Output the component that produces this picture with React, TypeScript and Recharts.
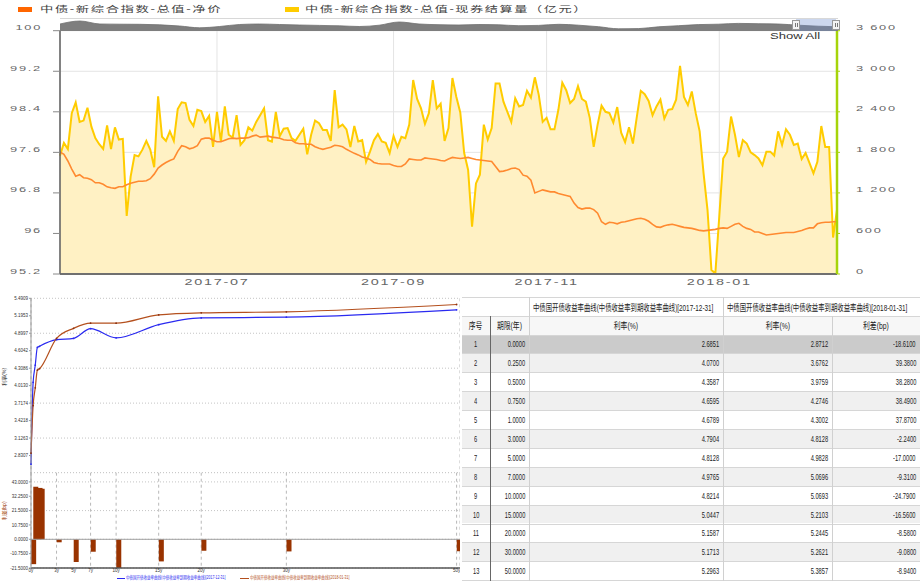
import React from "react";
import {
  Area,
  AreaChart,
  Bar,
  CartesianGrid,
  ComposedChart,
  Line,
  LineChart,
  ReferenceLine,
  XAxis,
  YAxis,
} from "recharts";

const FONT = '"Liberation Sans", Arial, "Noto Sans CJK SC", sans-serif';

// 中债-新综合指数-总值, one value per trading day
const netPrice = [
  97.61, 97.56, 97.43, 97.27, 97.13, 97.16, 97.1, 97.09, 97.06, 97.0,
  97.0, 96.97, 96.92, 96.9, 96.89, 96.92, 96.92, 96.96, 96.99, 97.01,
  97.03, 97.03, 97.04, 97.08, 97.17, 97.29, 97.35, 97.4, 97.44, 97.47,
  97.62, 97.73, 97.71, 97.67, 97.69, 97.73, 97.86, 97.88, 97.88, 97.84,
  97.81, 97.81, 97.84, 97.87, 97.88, 97.87, 97.88, 97.88, 97.89, 97.92,
  97.94, 97.9, 97.91, 97.92, 97.9, 97.89, 97.88, 97.85, 97.84, 97.84,
  97.79, 97.77, 97.77, 97.76, 97.76, 97.71, 97.68, 97.66, 97.68, 97.7,
  97.74, 97.73, 97.71, 97.66, 97.62, 97.58, 97.55, 97.51, 97.49, 97.46,
  97.4, 97.38, 97.37, 97.37, 97.37, 97.34, 97.32, 97.32, 97.37, 97.47,
  97.46, 97.45, 97.45, 97.49, 97.48, 97.47, 97.46, 97.44, 97.43, 97.47,
  97.5, 97.49, 97.48, 97.49, 97.5, 97.48, 97.46, 97.45, 97.44, 97.43,
  97.42, 97.32, 97.22, 97.23, 97.25, 97.28, 97.29, 97.26, 97.15, 97.13,
  97.05, 96.8, 96.83, 96.86, 96.84, 96.82, 96.82, 96.79, 96.77, 96.75,
  96.73, 96.6, 96.51, 96.48, 96.5, 96.5, 96.47, 96.4, 96.23, 96.18,
  96.22, 96.21, 96.19, 96.22, 96.23, 96.25, 96.27, 96.29, 96.3, 96.28,
  96.24, 96.18, 96.13, 96.12, 96.15, 96.17, 96.18, 96.16, 96.14, 96.12,
  96.11, 96.1, 96.08, 96.06, 96.05, 96.06, 96.07, 96.08, 96.1, 96.11,
  96.1, 96.14, 96.18, 96.2, 96.14, 96.1, 96.08, 96.03, 96.03, 96.0,
  95.97, 95.98, 95.99, 96.0, 96.01, 96.02, 96.02, 96.02, 96.04, 96.06,
  96.09, 96.11, 96.11, 96.19, 96.21, 96.22, 96.22, 96.23, 96.23,
];

const settleVolume = [
  1750, 1940, 1850, 2380, 2540, 2250, 2270, 2460, 2180, 2010,
  1920, 1850, 2200, 1850, 2170, 1990, 2000, 860, 1440, 1760,
  1740, 1840, 1970, 1840, 1580, 2630, 2030, 1970, 2110, 1970,
  2440, 2540, 2530, 2280, 2190, 2430, 2410, 2250, 2340, 1880,
  2400, 1960, 2480, 2060, 2020, 2350, 1910, 1980, 2170, 2120,
  2250, 2350, 2450, 1980, 1960, 2400, 2040, 2150, 2160, 2010,
  1970, 2060, 2150, 1770, 2060, 2270, 2230, 2130, 2130, 1970,
  2720, 2170, 2210, 2140, 1880, 2190, 1960, 1980, 1660, 1810,
  1980, 2070, 1960, 1940, 1790, 2040, 1880, 2030, 2010, 2210,
  2870, 2590, 2450, 2220, 2380, 2870, 2450, 2520, 1970, 2160,
  2900, 2620, 2390, 1790, 1540, 700, 1340, 1470, 2210, 1990,
  2160, 2820, 2820, 2550, 2400, 2250, 2600, 2480, 2500, 2710,
  2610, 2910, 2650, 2250, 2310, 2140, 2140, 2430, 2830, 2720,
  2530, 2590, 2780, 2590, 2550, 2310, 1880, 2210, 2490, 2400,
  2380, 2240, 2470, 2090, 1950, 2170, 1930, 2330, 2710, 2660,
  2560, 2350, 2480, 2580, 2300, 2430, 2440, 2580, 3080, 2620,
  2500, 2700, 2380, 2110, 1490, 950, 60, 10, 850, 1710,
  1810, 2330, 2060, 1730, 1980, 1930, 1800, 1760, 1710, 1610,
  1810, 1810, 1750, 2110, 1910, 2140, 2060, 1910, 1930, 1700,
  1790, 1640, 1490, 1660, 2190, 1880, 1880, 540, 950,
];

const monthTickIdx = [40, 85, 124, 168];
const monthLabels = ["2017-07", "2017-09", "2017-11", "2018-01"];
const priceTicks = [95.2, 96, 96.8, 97.6, 98.4, 99.2, 100];
const volumeTicks = [0, 600, 1200, 1800, 2400, 3000, 3600];

// navigator (full history, relative level)
const navigatorSeries = [
  7, 10, 7, 6.8, 6.7, 6.2, 5, 3.2, 4.5, 6.5,
  7, 6.5, 6, 5.6, 5.2, 4.5, 5.8, 9, 7, 6.3,
  6, 6.5, 6.2, 5.3, 5.6, 6.7, 5.8, 4.3, 2.2, 2.4,
  4.2, 5.3, 6.4, 6.8, 7.6, 7.3, 7, 5.8, 4.8, 4.2,
];

// 中债国开债收益率曲线
const tenors = [0, 0.25, 0.5, 0.75, 1, 3, 5, 7, 10, 15, 20, 30, 50];
const yield20171231 = [2.6851, 4.07, 4.3587, 4.6595, 4.6789, 4.7904, 4.8128, 4.9765, 4.8214, 5.0447, 5.1587, 5.1713, 5.2963];
const yield20180131 = [2.8712, 3.6762, 3.9759, 4.2746, 4.3002, 4.8128, 4.9828, 5.0696, 5.0693, 5.2103, 5.2445, 5.2621, 5.3857];
const spreadBp = [-18.61, 39.38, 38.28, 38.49, 37.87, -2.24, -17.0, -9.31, -24.79, -16.56, -8.58, -9.08, -8.94];
const tenorTicks = [0, 3, 5, 7, 10, 15, 20, 30, 50];
const yieldTicks = [2.5351, 2.8307, 3.1263, 3.4218, 3.7174, 4.013, 4.3086, 4.6042, 4.8997, 5.1953, 5.4909];
const spreadTicks = [-21.5, -10.75, 0, 10.75, 21.5, 32.25, 43.0];

const curveTitle = "中债国开债收益率曲线(中债收益率到期收益率曲线)";
const curveDates = ["2017-12-31", "2018-01-31"];

const topData = netPrice.map((price, i) => ({ i, price, volume: settleVolume[i] }));
const navData = navigatorSeries.map((v, i) => ({ i, v }));
const curveData = tenors.map((t, k) => ({
  t,
  dec: yield20171231[k],
  jan: yield20180131[k],
  spread: spreadBp[k],
}));

const fmtVolume = (v: number) =>
  v >= 1000 ? `${Math.floor(v / 1000)} ${String(v % 1000).padStart(3, "0")}` : String(v);
const fmtPrice = (v: number) => String(Math.round(v * 10) / 10);
const fmtMonth = (v: number) => monthLabels[monthTickIdx.indexOf(v)] ?? "";

// highcharts screenshot text is stretched sideways
const stretchTick =
  (fmt: (v: number) => string, anchor: string, dy: number, size: number) => (props: any) => {
    const { x, y, payload } = props;
    return (
      <text
        transform={`translate(${x},${y + dy}) scale(1.6,1)`}
        textAnchor={anchor}
        fontSize={size}
        letterSpacing={1.1}
        fill="#666"
        fontFamily={FONT}
      >
        {fmt(payload.value)}
      </text>
    );
  };

// bars start at their tenor and run 5px to the right
const BAR_W = 5;
const ShiftedBar = (props: any) => {
  const { x, y, width, height, fill } = props;
  const top = Math.min(y, y + height);
  return <rect x={x + width / 2} y={top} width={BAR_W} height={Math.abs(height)} fill={fill} />;
};

const Sx = ({ children, sx, origin }: any) => (
  <span
    style={{
      display: "inline-block",
      transform: `scaleX(${sx})`,
      transformOrigin: origin,
      whiteSpace: "nowrap",
    }}
  >
    {children}
  </span>
);

const abs = (left: number, top: number, extra: any = {}) => ({
  position: "absolute" as const,
  left,
  top,
  ...extra,
});

const colX = [462, 490, 529.3, 723.3, 831.7, 920];
const ROW_H = 18.9;
const BODY_TOP = 334.5;

const Cell = ({ c0, c1, top, h, align, children, sx, color = "#222" }: any) => (
  <div
    style={abs(colX[c0], top, {
      width: colX[c1] - colX[c0],
      height: h,
      display: "flex",
      alignItems: "center",
      justifyContent: align === "right" ? "flex-end" : align === "left" ? "flex-start" : "center",
      boxSizing: "border-box",
      padding: "0 4px",
      fontSize: 9.5,
      color,
    })}
  >
    <Sx sx={sx} origin={align === "right" ? "right center" : align === "left" ? "left center" : "center"}>
      {children}
    </Sx>
  </div>
);

const YieldTable = () => {
  const rows = tenors.map((t, k) => k);
  return (
    <>
      {rows.map((k) => (
        <div
          key={`bg${k}`}
          style={abs(colX[0], BODY_TOP + k * ROW_H, {
            width: 458,
            height: ROW_H,
            background: k === 0 ? "#cbcbcb" : k % 2 === 1 ? "#f0f0f0" : "#ffffff",
          })}
        />
      ))}
      <div style={abs(colX[0], 316, { width: 458, height: BODY_TOP - 316, background: "#f7f7f7" })} />
      {[297, 316, ...rows.map((k) => BODY_TOP + k * ROW_H), BODY_TOP + 13 * ROW_H].map((y, j) => (
        <div key={`h${j}`} style={abs(colX[0], y, { width: 458, height: 1, background: "#d6d6d6" })} />
      ))}
      <div style={abs(colX[1], 316, { width: 1, height: 265, background: "#666" })} />
      <div style={abs(colX[2], 297, { width: 1, height: 284, background: "#d0d0d0" })} />
      <div style={abs(colX[3], 297, { width: 1, height: 284, background: "#d0d0d0" })} />
      <div style={abs(colX[4], 316, { width: 1, height: 265, background: "#d0d0d0" })} />

      <Cell c0={2} c1={3} top={297} h={19} align="left" sx={0.67}>
        {`${curveTitle}[${curveDates[0]}]`}
      </Cell>
      <Cell c0={3} c1={5} top={297} h={19} align="left" sx={0.67}>
        {`${curveTitle}[${curveDates[1]}]`}
      </Cell>
      <Cell c0={0} c1={1} top={316} h={18.5} align="center" sx={0.72}>序号</Cell>
      <Cell c0={1} c1={2} top={316} h={18.5} align="center" sx={0.72}>期限(年)</Cell>
      <Cell c0={2} c1={3} top={316} h={18.5} align="center" sx={0.72}>利率(%)</Cell>
      <Cell c0={3} c1={4} top={316} h={18.5} align="center" sx={0.72}>利率(%)</Cell>
      <Cell c0={4} c1={5} top={316} h={18.5} align="center" sx={0.72}>利差(bp)</Cell>

      {rows.map((k) => {
        const top = BODY_TOP + k * ROW_H;
        return (
          <React.Fragment key={`r${k}`}>
            <Cell c0={0} c1={1} top={top} h={ROW_H} align="center" sx={0.6}>{k + 1}</Cell>
            <Cell c0={1} c1={2} top={top} h={ROW_H} align="right" sx={0.6}>{tenors[k].toFixed(4)}</Cell>
            <Cell c0={2} c1={3} top={top} h={ROW_H} align="right" sx={0.6}>{yield20171231[k].toFixed(4)}</Cell>
            <Cell c0={3} c1={4} top={top} h={ROW_H} align="right" sx={0.6}>{yield20180131[k].toFixed(4)}</Cell>
            <Cell c0={4} c1={5} top={top} h={ROW_H} align="right" sx={0.6}>{spreadBp[k].toFixed(4)}</Cell>
          </React.Fragment>
        );
      })}
    </>
  );
};

const App = () => {
  return (
    <div
      style={{
        position: "absolute",
        left: 0,
        top: 0,
        width: 920,
        height: 581,
        overflow: "hidden",
        background: "#fff",
        fontFamily: FONT,
      }}
    >
      {/* legend of the index chart */}
      <div style={abs(18, 7, { width: 14, height: 5, background: "#ff6600" })} />
      <div style={abs(40, 3, { fontSize: 8.5, lineHeight: "12px", color: "#444", letterSpacing: 1 })}>
        <Sx sx={1.57} origin="left center">中债-新综合指数-总值-净价</Sx>
      </div>
      <div style={abs(285, 7, { width: 14, height: 5, background: "#ffcc00" })} />
      <div style={abs(305, 3, { fontSize: 8.5, lineHeight: "12px", color: "#444", letterSpacing: 1 })}>
        <Sx sx={1.55} origin="left center">中债-新综合指数-总值-现券结算量（亿元）</Sx>
      </div>

      {/* index chart */}
      <div style={abs(0, 0)}>
        <ComposedChart
          width={920}
          height={295}
          data={topData}
          margin={{ top: 30.7, right: 0, bottom: 0, left: 0 }}
        >
          <CartesianGrid yAxisId="left" stroke="#e4e4e4" />
          <XAxis
            dataKey="i"
            type="number"
            domain={[0, topData.length - 1]}
            ticks={monthTickIdx}
            height={21}
            tickSize={0}
            tickMargin={0}
            tickLine={false}
            axisLine={{ stroke: "#707070", strokeWidth: 2 }}
            tick={stretchTick(fmtMonth, "middle", 11.2, 9)}
          />
          <YAxis
            yAxisId="left"
            width={60}
            domain={[95.2, 100]}
            ticks={priceTicks}
            tickSize={7}
            tickMargin={11}
            tickLine={{ stroke: "#888" }}
            axisLine={{ stroke: "#666", strokeWidth: 1.6 }}
            tick={stretchTick(fmtPrice, "end", -0.5, 8)}
          />
          <YAxis
            yAxisId="right"
            orientation="right"
            width={83}
            domain={[0, 3600]}
            ticks={volumeTicks}
            tickSize={3}
            tickMargin={16}
            tickLine={{ stroke: "#a6d40a" }}
            axisLine={{ stroke: "#a6d40a", strokeWidth: 2.5 }}
            tick={stretchTick(fmtVolume, "start", -0.5, 8)}
          />
          <Area
            yAxisId="right"
            dataKey="volume"
            type="linear"
            stroke="#ffcc00"
            strokeWidth={2}
            fill="#fff1c4"
            fillOpacity={1}
            dot={false}
            isAnimationActive={false}
          />
          <Line
            yAxisId="left"
            dataKey="price"
            type="linear"
            stroke="#ff8a30"
            strokeWidth={1.6}
            dot={false}
            isAnimationActive={false}
          />
        </ComposedChart>
      </div>

      {/* navigator */}
      <div style={abs(60, 18, { width: 778, height: 13, borderTop: "1px solid #d8d8d8", boxSizing: "border-box" })}>
        <AreaChart width={778} height={12} data={navData} margin={{ top: 0, right: 0, bottom: 0, left: 0 }}>
          <XAxis dataKey="i" type="number" domain={[0, navData.length - 1]} hide />
          <YAxis domain={[0, 12]} hide />
          <Area
            dataKey="v"
            type="monotone"
            stroke="#6e6e6e"
            strokeWidth={0.8}
            fill="#7e7e7e"
            fillOpacity={1}
            isAnimationActive={false}
          />
        </AreaChart>
      </div>
      <div style={abs(796, 19, { width: 40, height: 12, background: "rgba(110,140,205,0.35)" })} />
      {[792, 832].map((x) => (
        <div
          key={x}
          style={abs(x, 20, {
            width: 6,
            height: 8,
            background: "#f4f4f4",
            border: "1px solid #999",
            display: "flex",
            justifyContent: "center",
            alignItems: "center",
            gap: 1,
          })}
        >
          <div style={{ width: 1, height: 4, background: "#777" }} />
          <div style={{ width: 1, height: 4, background: "#777" }} />
        </div>
      ))}
      <div style={abs(770, 30, { fontSize: 9, lineHeight: "12px", color: "#333" })}>
        <Sx sx={1.45} origin="left center">Show All</Sx>
      </div>

      {/* yield curves */}
      <div style={abs(0, 290)}>
        <LineChart width={460} height={183} data={curveData} margin={{ top: 8.3, right: 0, bottom: 0, left: 0 }}>
          <CartesianGrid stroke="#c4c4c4" strokeDasharray="1 2" vertical={false} />
          <CartesianGrid stroke="#b8b8b8" strokeDasharray="3 3" horizontal={false} />
          <XAxis
            dataKey="t"
            type="number"
            domain={[0, 50.4]}
            ticks={tenorTicks}
            height={0}
            tick={false}
            tickLine={false}
            axisLine={{ stroke: "#8c8c8c", strokeWidth: 2 }}
          />
          <YAxis
            width={31}
            domain={[yieldTicks[0], yieldTicks[yieldTicks.length - 1]]}
            ticks={yieldTicks}
            tickFormatter={(v: number) => v.toFixed(4)}
            tick={{ fontSize: 4.5, fill: "#333" }}
            tickSize={2}
            tickMargin={1}
            axisLine={{ stroke: "#999" }}
            tickLine={{ stroke: "#999" }}
            label={{ value: "利率(%)", angle: -90, position: "insideLeft", offset: 4, fontSize: 5, fill: "#111" }}
          />
          <Line
            dataKey="dec"
            type="monotone"
            stroke="#2a2af0"
            strokeWidth={1.2}
            dot={{ r: 0.9, fill: "#2a2af0", stroke: "none" }}
            isAnimationActive={false}
          />
          <Line
            dataKey="jan"
            type="monotone"
            stroke="#b4501e"
            strokeWidth={1.2}
            dot={{ r: 0.9, fill: "#8a3010", stroke: "none" }}
            isAnimationActive={false}
          />
        </LineChart>
      </div>

      {/* spread bars */}
      <div style={abs(0, 472)}>
        <ComposedChart width={460} height={109} data={curveData} margin={{ top: 0.7, right: 0, bottom: 0, left: 0 }}>
          <CartesianGrid stroke="#c4c4c4" strokeDasharray="1 2" vertical={false} />
          <CartesianGrid stroke="#b8b8b8" strokeDasharray="3 3" horizontal={false} />
          <XAxis
            dataKey="t"
            type="number"
            domain={[0, 50.4]}
            ticks={tenorTicks}
            height={13}
            tickSize={0}
            tickMargin={0.5}
            tickFormatter={(v: number) => `${v}y`}
            tick={{ fontSize: 4.5, fill: "#333" }}
            axisLine={{ stroke: "#555", strokeWidth: 1.5 }}
          />
          <YAxis
            width={31}
            domain={[-21.5, 49.9]}
            allowDataOverflow
            ticks={spreadTicks}
            tickFormatter={(v: number) => v.toFixed(4)}
            tick={{ fontSize: 4.5, fill: "#333" }}
            tickSize={2}
            tickMargin={1}
            axisLine={{ stroke: "#999" }}
            tickLine={{ stroke: "#999" }}
            label={{ value: "利差(bp)", angle: -90, position: "insideLeft", offset: 4, fontSize: 5, fill: "#993300" }}
          />
          <ReferenceLine y={0} stroke="#a0a0a0" />
          <Bar dataKey="spread" fill="#993300" shape={ShiftedBar} isAnimationActive={false} />
        </ComposedChart>
      </div>

      {/* curve legend */}
      <div style={abs(117, 577.5, { width: 8, height: 1, background: "#2a2af0" })} />
      <div style={abs(126, 575, { fontSize: 4.5, lineHeight: "6px", color: "#2a2af0" })}>
        <Sx sx={0.78} origin="left center">{`${curveTitle}[${curveDates[0]}]`}</Sx>
      </div>
      <div style={abs(240, 577.5, { width: 9, height: 1, background: "#b4501e" })} />
      <div style={abs(250, 575, { fontSize: 4.5, lineHeight: "6px", color: "#b4501e" })}>
        <Sx sx={0.78} origin="left center">{`${curveTitle}[${curveDates[1]}]`}</Sx>
      </div>

      <YieldTable />
    </div>
  );
};

export default App;
